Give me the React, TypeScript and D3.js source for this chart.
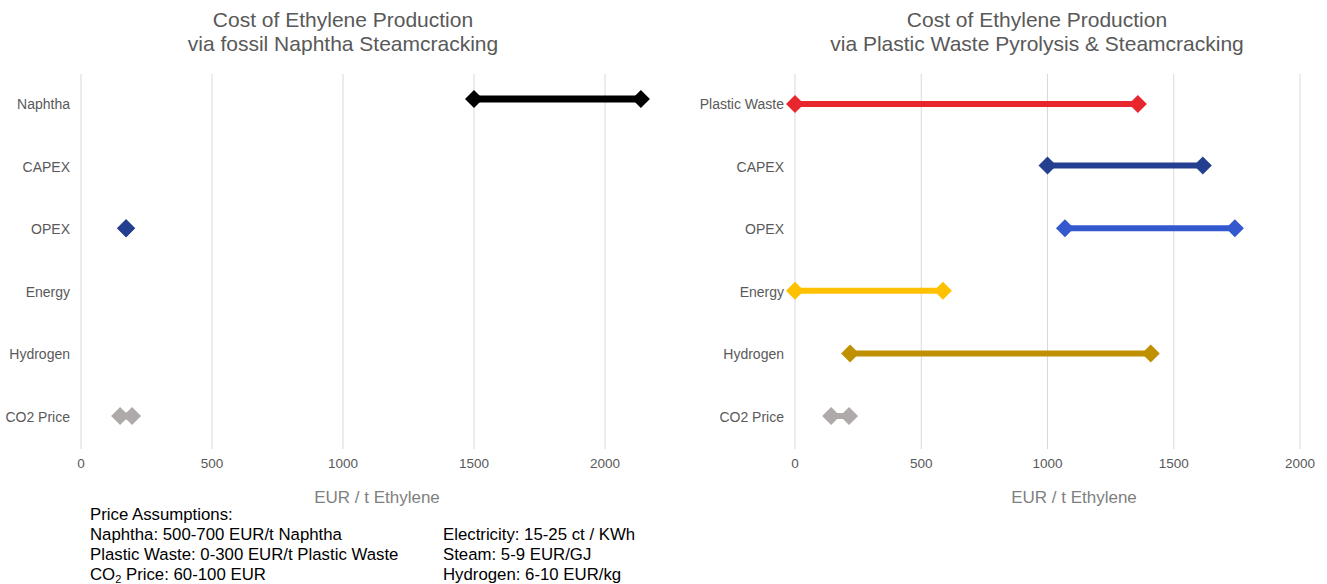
import React from "react";
import * as d3 from "d3";

const leftCategories = ["Naphtha", "CAPEX", "OPEX", "Energy", "Hydrogen", "CO2 Price"];
const rightCategories = ["Plastic Waste", "CAPEX", "OPEX", "Energy", "Hydrogen", "CO2 Price"];
const xTicks = [0, 500, 1000, 1500, 2000];

const leftMin = [1500, null, 172, null, null, 149];
const leftMax = [2137, null, 172, null, null, 195];
const leftColors = ["#000000", "#243f8f", "#243f8f", "#ffc000", "#bf9000", "#aeaaaa"];

const rightMin = [0, 1000, 1069, 0, 218, 143];
const rightMax = [1358, 1615, 1742, 586, 1409, 214];
const rightColors = ["#e8262d", "#243f8f", "#3459cf", "#ffc000", "#bf9000", "#aeaaaa"];

const FONT = "'Liberation Sans', Arial, sans-serif";

function Diamond({ cx, cy, r, fill }: { cx: number; cy: number; r: number; fill: string }) {
  return <path d={`M${cx - r},${cy} L${cx},${cy - r} L${cx + r},${cy} L${cx},${cy + r} Z`} fill={fill} />;
}

function Panel({
  x0, x1, cats, mins, maxs, colors, title1, title2, titleX, axisTitleX, lw, markerShift,
}: {
  x0: number; x1: number; cats: string[]; mins: (number | null)[]; maxs: (number | null)[];
  colors: string[]; title1: string; title2: string; titleX: number; axisTitleX: number; lw: number; markerShift: number;
}) {
  const x = d3.scaleLinear().domain([0, 2000]).range([x0, x1]);
  const y = d3.scalePoint().domain(cats).range([104, 417]);
  return (
    <g>
      <text x={titleX} y={26.5} textAnchor="middle" fontSize={21} fill="#595959" fontFamily={FONT}>{title1}</text>
      <text x={titleX} y={51} textAnchor="middle" fontSize={21} fill="#595959" fontFamily={FONT}>{title2}</text>
      {xTicks.map((t) => (
        <g key={t}>
          <line x1={x(t)} x2={x(t)} y1={74} y2={449} stroke="#d9d9d9" strokeWidth={1} />
          <text x={x(t)} y={468} textAnchor="middle" fontSize={13.5} fill="#595959" fontFamily={FONT}>{t}</text>
        </g>
      ))}
      <text x={axisTitleX} y={503} textAnchor="middle" fontSize={17} fill="#7f7f7f" fontFamily={FONT}>EUR / t Ethylene</text>
      {cats.map((c) => (
        <text key={c} x={x0 - 11} y={(y(c) as number) + 5} textAnchor="end" fontSize={14} fill="#595959" fontFamily={FONT}>{c}</text>
      ))}
      {cats.map((c, i) => {
        const a = mins[i];
        const b = maxs[i];
        if (a === null || b === null) return null;
        const cy = (y(c) as number) + (i === 0 ? markerShift : -1);
        return (
          <g key={c + "m"}>
            {b > a && <line x1={x(a)} x2={x(b)} y1={cy} y2={cy} stroke={colors[i]} strokeWidth={lw} />}
            <Diamond cx={x(a)} cy={cy} r={9} fill={colors[i]} />
            <Diamond cx={x(b)} cy={cy} r={9} fill={colors[i]} />
          </g>
        );
      })}
    </g>
  );
}

export default function App() {
  return (
    <svg width={1327} height={584} style={{ position: "absolute", left: 0, top: 0, background: "#fff" }}>
      <rect width={1327} height={584} fill="#fff" />
      <Panel x0={81} x1={605} cats={leftCategories} mins={leftMin} maxs={leftMax} colors={leftColors}
        title1="Cost of Ethylene Production" title2="via fossil Naphtha Steamcracking" titleX={343} axisTitleX={377} lw={7} markerShift={-5} />
      <Panel x0={795} x1={1300} cats={rightCategories} mins={rightMin} maxs={rightMax} colors={rightColors}
        title1="Cost of Ethylene Production" title2="via Plastic Waste Pyrolysis & Steamcracking" titleX={1037} axisTitleX={1074} lw={6} markerShift={0} />
      <g fontFamily={FONT} fontSize={16.8} fill="#000">
        <text x={90} y={520}>Price Assumptions:</text>
        <text x={90} y={540}>Naphtha: 500-700 EUR/t Naphtha</text>
        <text x={90} y={560}>Plastic Waste: 0-300 EUR/t Plastic Waste</text>
        <text x={90} y={580}>CO<tspan fontSize={11} dy={3}>2</tspan><tspan dy={-3}> Price: 60-100 EUR</tspan></text>
        <text x={443} y={540}>Electricity: 15-25 ct / KWh</text>
        <text x={443} y={560}>Steam: 5-9 EUR/GJ</text>
        <text x={443} y={580}>Hydrogen: 6-10 EUR/kg</text>
      </g>
    </svg>
  );
}
